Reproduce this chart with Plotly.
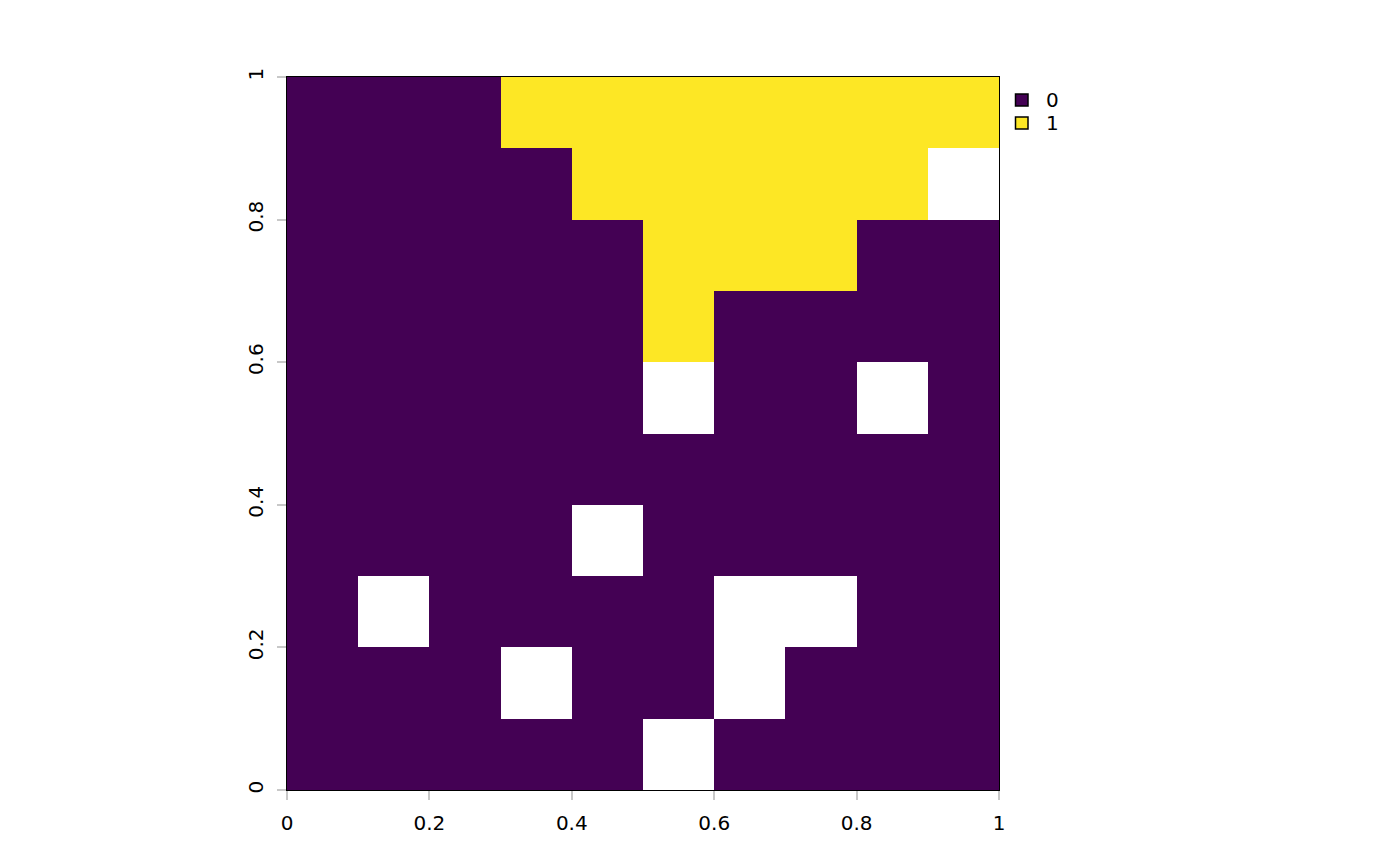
import plotly.graph_objects as go

# cell centres
x_centers = [0.05, 0.15, 0.25, 0.35, 0.45, 0.55, 0.65, 0.75, 0.85, 0.95]
y_centers = [0.05, 0.15, 0.25, 0.35, 0.45, 0.55, 0.65, 0.75, 0.85, 0.95]

# raster values, rows from bottom (y=0.05) to top (y=0.95); None = NA
N = None
row_00 = [0, 0, 0, 0, 0, N, 0, 0, 0, 0]
row_01 = [0, 0, 0, N, 0, 0, N, 0, 0, 0]
row_02 = [0, N, 0, 0, 0, 0, N, N, 0, 0]
row_03 = [0, 0, 0, 0, N, 0, 0, 0, 0, 0]
row_04 = [0, 0, 0, 0, 0, 0, 0, 0, 0, 0]
row_05 = [0, 0, 0, 0, 0, N, 0, 0, N, 0]
row_06 = [0, 0, 0, 0, 0, 1, 0, 0, 0, 0]
row_07 = [0, 0, 0, 0, 0, 1, 1, 1, 0, 0]
row_08 = [0, 0, 0, 0, 1, 1, 1, 1, 1, N]
row_09 = [0, 0, 0, 1, 1, 1, 1, 1, 1, 1]

z = [row_00, row_01, row_02, row_03, row_04, row_05, row_06, row_07, row_08, row_09]

classes = ["0", "1"]
class_colors = ["#440154", "#FDE725"]

tick_vals = [0, 0.2, 0.4, 0.6, 0.8, 1]
tick_text = ["0", "0.2", "0.4", "0.6", "0.8", "1"]

# layout geometry (pixels)
W, H = 1400, 866
ML, MT = 279, 69
PW, PH = 712, 713
MR = W - ML - PW
MB = H - MT - PH

fig = go.Figure()
fig.add_trace(go.Heatmap(
    x=x_centers, y=y_centers, z=z,
    colorscale=[[0, class_colors[0]], [1, class_colors[1]]],
    zmin=0, zmax=1, showscale=False, hoverongaps=False,
    showlegend=False,
))

axis_common = dict(
    range=[0, 1], tickvals=tick_vals, ticktext=tick_text,
    ticks="outside", ticklen=9, tickcolor="#c8c8c8", tickwidth=1.5,
    showgrid=False, zeroline=False,
    showline=True, mirror=True, linecolor="black", linewidth=1,
    tickfont=dict(family="DejaVu Sans", size=20, color="black"),
)

# manual legend (R-style key): squares + labels
leg_left_px = 1014.5 - 7   # in page px of the reference, shifted to our frame
def px_to_paper_x(px):
    return (px - ML) / PW
def py_to_paper_y(py):
    return (MT + PH - py) / PH

shapes = []
annotations = []
key_tops = [93 - 7, 116 - 7]
for name, col, top in zip(classes, class_colors, key_tops):
    shapes.append(dict(
        type="rect", xref="paper", yref="paper",
        x0=px_to_paper_x(1014.5 - 7), x1=px_to_paper_x(1027 - 7),
        y0=py_to_paper_y(top + 12), y1=py_to_paper_y(top),
        fillcolor=col, line=dict(color="black", width=1.5),
    ))
    annotations.append(dict(
        text=name, xref="paper", yref="paper",
        x=px_to_paper_x(1043 - 7), y=py_to_paper_y(top + 6),
        xanchor="left", yanchor="middle", showarrow=False,
        font=dict(family="DejaVu Sans", size=20, color="black"),
    ))

fig.update_layout(
    width=W, height=H,
    margin=dict(l=ML, r=MR, t=MT, b=MB),
    paper_bgcolor="white", plot_bgcolor="white",
    xaxis=dict(**axis_common, ticklabelstandoff=6),
    yaxis=dict(**axis_common, tickangle=-90, ticklabelstandoff=6),
    showlegend=False,
    shapes=shapes, annotations=annotations,
    font=dict(family="DejaVu Sans"),
)

fig.write_html("out.html")
